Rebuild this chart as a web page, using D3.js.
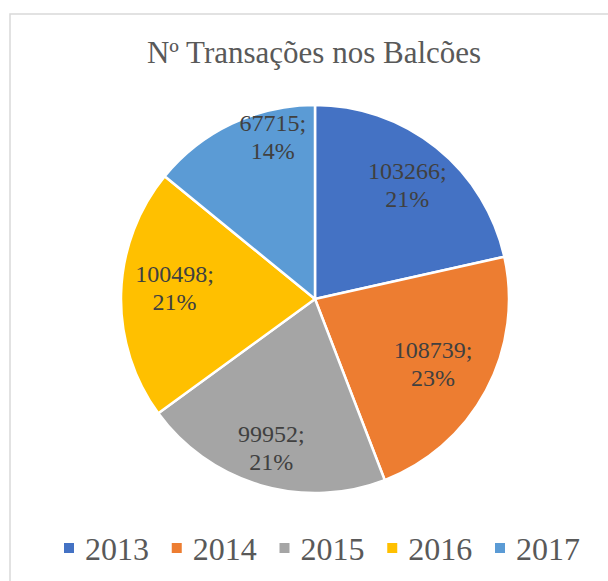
<!DOCTYPE html>
<html>
<head>
<meta charset="utf-8">
<script src="https://cdn.jsdelivr.net/npm/d3@7"></script>
</head>
<body style="margin:0;background:#fff">
<script>
// Chart data
const years  = ["2013", "2014", "2015", "2016", "2017"];
const values = [103266, 108739, 99952, 100498, 67715];
const colors = ["#4472C4", "#ED7D31", "#A5A5A5", "#FFC000", "#5B9BD5"];
const title  = "Nº Transações nos Balcões";

const width = 608, height = 581;
const cx = 315, cy = 299, radius = 194;
const serif = '"Liberation Serif"';

// Excel-like label shifts (relative to the arc centroid), to mimic best fit
const nudge = [[0, 0], [-12, -6], [-2, 7], [7, -8], [21, -30]];

// percentages that add up to 100 (largest remainder)
function percents(vals) {
  const total = d3.sum(vals);
  const raw = vals.map(v => v / total * 100);
  const out = raw.map(Math.floor);
  const left = 100 - d3.sum(out);
  d3.range(vals.length)
    .sort((a, b) => (raw[b] - out[b]) - (raw[a] - out[a]))
    .slice(0, left)
    .forEach(i => out[i] += 1);
  return out;
}
const pct = percents(values);

const svg = d3.select("body").append("svg")
  .attr("width", width)
  .attr("height", height)
  .style("display", "block")
  .style("font-family", serif);

// chart area border
svg.append("rect")
  .attr("x", 10).attr("y", 14)
  .attr("width", 640).attr("height", 640)
  .attr("fill", "#fff")
  .attr("stroke", "#d9d9d9")
  .attr("stroke-width", 1.5);

svg.append("text")
  .attr("x", 314).attr("y", 63)
  .attr("text-anchor", "middle")
  .style("font-family", serif)
  .attr("font-size", 31)
  .attr("fill", "#595959")
  .text(title);

const data = years.map((y, i) => ({ year: y, value: values[i], pct: pct[i] }));

const pie = d3.pie().sort(null).value(d => d.value);
const arcs = pie(data);
const arc = d3.arc().innerRadius(0).outerRadius(radius);
const labelArc = d3.arc().innerRadius(radius * 0.76).outerRadius(radius * 0.76);

const g = svg.append("g").attr("transform", `translate(${cx},${cy})`);

g.selectAll("path.slice")
  .data(arcs)
  .join("path")
    .attr("class", "slice")
    .attr("d", arc)
    .attr("fill", (d, i) => colors[i])
    .attr("stroke", "#fff")
    .attr("stroke-width", 2.5)
    .attr("stroke-linejoin", "round");

const labels = g.selectAll("text.lbl")
  .data(arcs)
  .join("text")
    .attr("class", "lbl")
    .attr("transform", (d, i) => {
      const [x, y] = labelArc.centroid(d);
      return `translate(${x + nudge[i][0]},${y + nudge[i][1]})`;
    })
    .attr("text-anchor", "middle")
    .style("font-family", serif)
    .attr("font-size", 24)
    .attr("fill", "#404040");

labels.append("tspan")
  .attr("x", 0).attr("dy", -5)
  .text(d => d.data.value + ";");
labels.append("tspan")
  .attr("x", 0).attr("dy", 28)
  .text(d => d.data.pct + "%");

// legend
const legend = svg.append("g").attr("transform", "translate(0,548)");
const item = legend.selectAll("g")
  .data(years)
  .join("g")
    .attr("transform", (d, i) => `translate(${64 + i * 107.75},0)`);
item.append("rect")
  .attr("x", 0).attr("y", -5)
  .attr("width", 10).attr("height", 10)
  .attr("fill", (d, i) => colors[i]);
item.append("text")
  .attr("x", 21).attr("y", 12)
  .style("font-family", serif)
  .attr("font-size", 32)
  .attr("fill", "#595959")
  .text(d => d);
</script>
</body>
</html>
